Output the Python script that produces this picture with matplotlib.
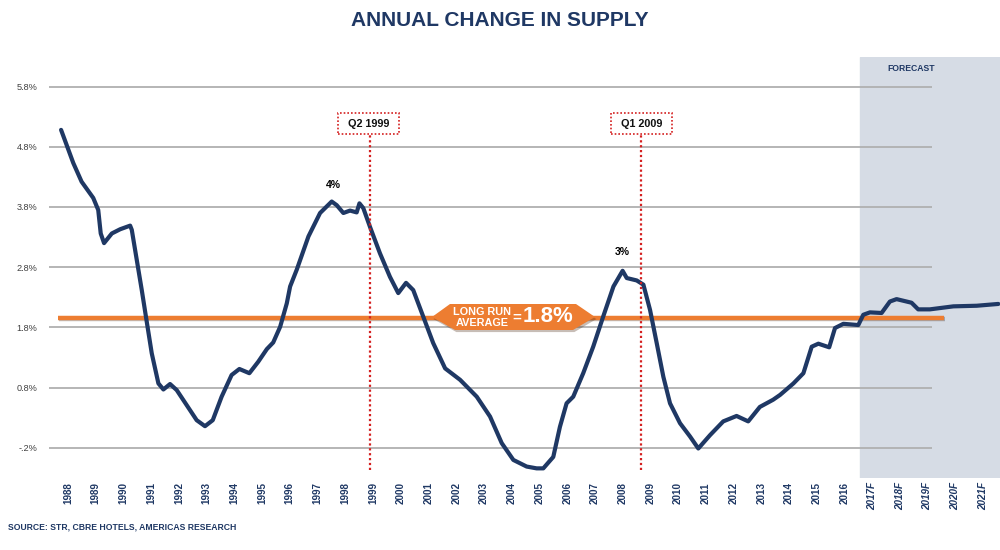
import matplotlib
matplotlib.use("Agg")
import matplotlib.pyplot as plt
from matplotlib.patches import Polygon, Rectangle
import matplotlib.patheffects as pe

plt.rcParams['font.family'] = ['Liberation Sans', 'DejaVu Sans']

# data (x = fractional year, y = % change)
quarter = [1987.75, 1988.19, 1988.49, 1988.91, 1989.09, 1989.18, 1989.30, 1989.58,
           1989.88, 1990.24, 1990.30, 1990.48, 1990.66, 1990.81, 1991.02, 1991.26,
           1991.44, 1991.68, 1991.92, 1992.28, 1992.64, 1992.94, 1993.22, 1993.54,
           1993.90, 1994.18, 1994.54, 1994.86, 1995.17, 1995.40, 1995.65, 1995.89,
           1996.01, 1996.25, 1996.67, 1997.09, 1997.51, 1997.69, 1997.93, 1998.17,
           1998.41, 1998.51, 1998.65, 1998.89, 1999.25, 1999.61, 1999.91, 2000.19,
           2000.45, 2000.81, 2001.17, 2001.60, 2002.14, 2002.74, 2003.22, 2003.64,
           2004.06, 2004.54, 2004.90, 2005.14, 2005.50, 2005.74, 2005.98, 2006.22,
           2006.58, 2006.94, 2007.30, 2007.67, 2008.00, 2008.15, 2008.51, 2008.75,
           2008.99, 2009.23, 2009.47, 2009.71, 2010.07, 2010.43, 2010.73, 2011.15,
           2011.63, 2012.11, 2012.53, 2012.95, 2013.43, 2013.68, 2014.16, 2014.52,
           2014.82, 2015.06, 2015.45, 2015.66, 2015.96, 2016.50, 2016.68, 2016.92,
           2017.34, 2017.64, 2017.88, 2018.42, 2018.66, 2019.08, 2019.93, 2020.77,
           2021.55]
supply = [5.08, 4.53, 4.22, 3.95, 3.75, 3.36, 3.20, 3.36,
          3.43, 3.49, 3.42, 2.92, 2.42, 1.98, 1.37, 0.87,
          0.77, 0.86, 0.76, 0.51, 0.26, 0.16, 0.26, 0.65,
          1.01, 1.11, 1.04, 1.23, 1.44, 1.55, 1.81, 2.20,
          2.48, 2.76, 3.31, 3.70, 3.89, 3.83, 3.70, 3.74,
          3.71, 3.86, 3.78, 3.47, 3.03, 2.64, 2.37, 2.54,
          2.42, 1.98, 1.54, 1.12, 0.93, 0.65, 0.32, -0.12,
          -0.40, -0.51, -0.54, -0.54, -0.35, 0.15, 0.54, 0.65,
          1.04, 1.48, 1.98, 2.48, 2.74, 2.62, 2.58, 2.51,
          2.09, 1.54, 0.98, 0.54, 0.21, -0.01, -0.21, 0.01,
          0.24, 0.33, 0.24, 0.48, 0.60, 0.68, 0.87, 1.04,
          1.48, 1.53, 1.47, 1.79, 1.86, 1.84, 2.01, 2.05,
          2.04, 2.23, 2.27, 2.21, 2.10, 2.10, 2.15, 2.16,
          2.19]

years = list(range(1988, 2022))
year_labels = [str(y) if y < 2017 else f"{y}F" for y in years]
y_ticks = [-0.2, 0.8, 1.8, 2.8, 3.8, 4.8, 5.8]
y_labels = ["-.2%", "0.8%", "1.8%", "2.8%", "3.8%", "4.8%", "5.8%"]
long_run_avg = 1.8
avg_level = 1.96          # where the orange line sits in the picture
forecast_start = 2016.56
events = [(1998.89, "Q2 1999"), (2008.66, "Q1 2009")]
peaks = [(1997.56, 4.17, "4%"), (2007.98, 3.05, "3%")]

NAVY = "#1F3864"
ORANGE = "#ED7D31"
RED = "#D42020"
W, H = 1000, 550


def fx(px):
    return px / W


def fy(py):
    return 1 - py / H


fig = plt.figure(figsize=(10, 5.5), dpi=100)
ax = fig.add_axes([fx(40), fy(478), fx(960), (478 - 57) / H])
ax.set_xlim(1986.99, 2021.61)
ax.set_ylim(-0.70, 6.29)
for s in ax.spines.values():
    s.set_visible(False)

ax.axvspan(forecast_start, 2021.61, color="#D6DCE5", zorder=0)
ax.text(2018.4, 6.1, "FORECAST", ha="center", va="center", fontsize=6.2,
        fontweight="bold", color=NAVY)

for v in y_ticks:
    ax.hlines(v, 1987.31, 2019.16, color="#B0B0B0", lw=1.3, zorder=1)

ax.hlines(avg_level, 1987.64, 2019.6, color=ORANGE, lw=3.2, zorder=3,
          path_effects=[pe.SimpleLineShadow(offset=(0.8, -1.2), alpha=0.25),
                        pe.Normal()])

ax.plot(quarter, supply, color=NAVY, lw=3.0, zorder=4,
        solid_joinstyle="round", solid_capstyle="round")

for t, lab in events:
    ax.vlines(t, -0.57, 5.01, color=RED, lw=1.6, linestyles=(0, (1, 1.2)), zorder=5)

for t, v, lab in peaks:
    ax.text(t, v, lab, ha="center", va="center", fontsize=7.5,
            fontweight="bold", color="black", zorder=6)

ax.set_yticks(y_ticks)
ax.set_yticklabels(y_labels, fontsize=6.6, color="#404040")
ax.set_xticks(years)
ax.set_xticklabels(year_labels, rotation=90, fontsize=7.1, fontweight="bold",
                   color=NAVY, va="top")
for lab in ax.get_xticklabels():
    if lab.get_text().endswith("F"):
        lab.set_fontstyle("italic")
ax.tick_params(axis="both", length=0)
ax.tick_params(axis="y", pad=2)
ax.tick_params(axis="x", pad=3)

# event boxes
for (t, lab), cx in zip(events, [368.5, 641.5]):
    fig.patches.append(Rectangle((fx(cx - 30.5), fy(134)), 61 / W, 21 / H,
                                 transform=fig.transFigure, facecolor="white",
                                 edgecolor=RED, lw=1.2, linestyle=(0, (1, 1.2))))
    fig.text(fx(cx), fy(123.5), lab, ha="center", va="center", fontsize=7.8,
             fontweight="bold", color="#111111")

# long run average banner
banner = Polygon([(fx(432), fy(317)), (fx(450), fy(304)), (fx(576), fy(304)),
                  (fx(595), fy(317)), (fx(573), fy(330)), (fx(455), fy(330))],
                 closed=True, transform=fig.transFigure, facecolor=ORANGE,
                 edgecolor="none", zorder=5,
                 path_effects=[pe.SimplePatchShadow(offset=(1, -1.5), alpha=0.3),
                               pe.Normal()])
fig.patches.append(banner)
fig.text(fx(482), fy(312), "LONG RUN", ha="center", va="center", fontsize=7.8,
         fontweight="bold", color="white", zorder=6)
fig.text(fx(482), fy(323), "AVERAGE", ha="center", va="center", fontsize=7.8,
         fontweight="bold", color="white", zorder=6)
fig.text(fx(517), fy(318), "=", ha="center", va="center", fontsize=11,
         fontweight="bold", color="white", zorder=6)
fig.text(fx(548), fy(317), f"{long_run_avg}%", ha="center", va="center",
         fontsize=16, fontweight="bold", color="white", zorder=6)

fig.text(0.5, fy(20), "ANNUAL CHANGE IN SUPPLY", ha="center", va="center",
         fontsize=15, fontweight="bold", color=NAVY)
fig.text(fx(8), fy(527), "SOURCE: STR, CBRE HOTELS, AMERICAS RESEARCH",
         ha="left", va="center", fontsize=6.2, fontweight="bold", color=NAVY)

fig.savefig("out.png", dpi=100)
